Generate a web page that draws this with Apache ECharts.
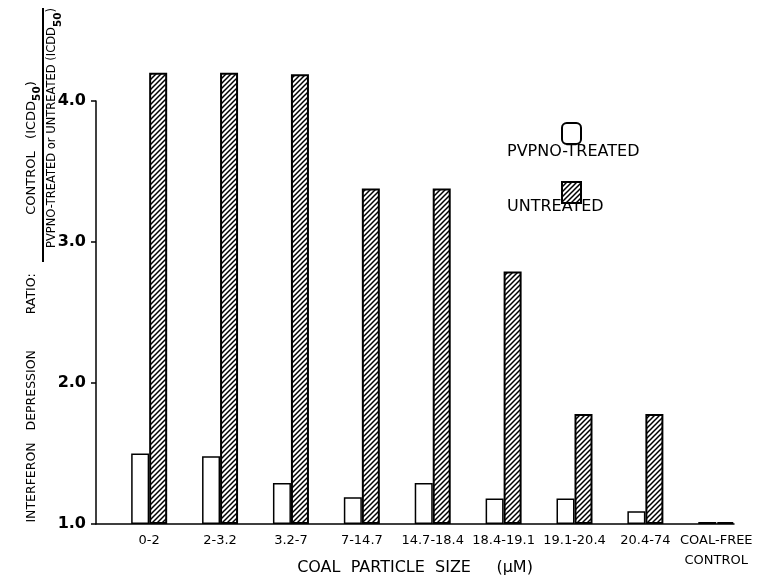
<!DOCTYPE html>
<html><head><meta charset="utf-8">
<script src="https://cdn.jsdelivr.net/npm/echarts@6/dist/echarts.min.js"></script>
<style>html,body{margin:0;padding:0;background:#fff}#c{width:766px;height:582px}</style>
</head><body><div id="c"></div>
<script>
const categories = ['0-2','2-3.2','3.2-7','7-14.7','14.7-18.4','18.4-19.1','19.1-20.4','20.4-74','COAL-FREE\nCONTROL'];
const pvpnoTreated = [1.50,1.48,1.29,1.19,1.29,1.18,1.18,1.09,1.0];
const untreated = [4.20,4.20,4.19,3.38,3.38,2.79,1.78,1.78,1.0];
const yTicks = [1,2,3,4];
const seriesNames = ['PVPNO-TREATED','UNTREATED'];
const xTitle = 'COAL  PARTICLE  SIZE     (\u03bcM)';
const yTitleMain = 'INTERFERON   DEPRESSION         RATIO:';
const yTitleNum = 'CONTROL   (ICDD';
const yTitleDen = 'PVPNO-TREATED or UNTREATED (ICDD';
const yTitleSub = '50';

const FONT = 'DejaVu Sans';

function hatchCanvas(){
  const s = 5;
  const c = document.createElement('canvas');
  c.width = s; c.height = s;
  const g = c.getContext('2d');
  g.fillStyle = '#fff'; g.fillRect(0,0,s,s);
  g.strokeStyle = '#000'; g.lineWidth = 1.5;
  g.beginPath();
  g.moveTo(-1, s+1); g.lineTo(s+1, -1);
  g.moveTo(-1, 1); g.lineTo(1, -1);
  g.moveTo(s-1, s+1); g.lineTo(s+1, s-1);
  g.stroke();
  return c;
}
const hatch = {image: hatchCanvas(), repeat: 'repeat'};

const chart = echarts.init(document.getElementById('c'), null, {renderer:'canvas'});
const idx = categories.map((c,i)=>i);

chart.setOption({
  animation: false,
  backgroundColor: '#fff',
  grid: {left: 96, right: 32, top: 101, bottom: 58, outerBoundsMode: 'none', containLabel: false},
  xAxis: {
    type: 'value', min: -0.75, max: 8.25,
    axisLine: {show: true, onZero: false, lineStyle: {color: '#000', width: 1.5}},
    axisTick: {show: false},
    splitLine: {show: false},
    axisLabel: {
      customValues: idx,
      formatter: v => categories[Math.round(v)] || '',
      color: '#000', fontFamily: FONT, fontSize: 13, margin: 7, lineHeight: 20,
      hideOverlap: false
    },
    name: xTitle, nameLocation: 'middle', nameGap: 36, nameMoveOverlap: false,
    nameTextStyle: {color: '#000', fontFamily: FONT, fontSize: 16}
  },
  yAxis: {
    type: 'value', min: yTicks[0], max: yTicks[yTicks.length-1], interval: 1, startValue: yTicks[0],
    axisLine: {show: true, onZero: false, lineStyle: {color: '#000', width: 1.5}},
    axisTick: {show: true, inside: false, length: 5, lineStyle: {color: '#000', width: 1.5}},
    splitLine: {show: false},
    axisLabel: {formatter: v => v.toFixed(1), color: '#000', fontFamily: FONT, fontSize: 16, fontWeight: 'bold', margin: 10}
  },
  legend: {
    orient: 'vertical', left: 556, top: 117, itemWidth: 19, itemHeight: 21, itemGap: 36,
    selectedMode: false, formatter: () => '',
    data: [{name: seriesNames[0], icon: 'roundRect'}, {name: seriesNames[1], icon: 'rect'}]
  },
  series: [
    {
      name: seriesNames[0], type: 'bar', barWidth: 18, barGap: '0%', clip: false, barMinHeight: 2,
      data: pvpnoTreated.map((v,i)=>[i, v]),
      itemStyle: {color: '#fff', borderColor: '#000', borderWidth: 1.5}
    },
    {
      name: seriesNames[1], type: 'bar', barWidth: 18, barGap: '0%', clip: false, barMinHeight: 2,
      data: untreated.map((v,i)=>[i, v]),
      itemStyle: {color: hatch, borderColor: '#000', borderWidth: 2}
    }
  ],
  graphic: [
    {type: 'text', x: 32, y: 398, rotation: Math.PI/2,
     style: {text: yTitleMain, fontFamily: FONT, fontSize: 12.5, fill: '#000', align: 'center', verticalAlign: 'middle'}},
    {type: 'text', x: 34, y: 148, rotation: Math.PI/2,
     style: {text: '{n|' + yTitleNum + '}{s|' + yTitleSub + '}{n|)}', fill: '#000', align: 'center', verticalAlign: 'middle',
       rich: {n: {fontFamily: FONT, fontSize: 13, fill: '#000', lineHeight: 14, verticalAlign: 'top'}, s: {fontFamily: FONT, fontSize: 10.5, fontWeight: 'bold', fill: '#000', lineHeight: 18, verticalAlign: 'bottom'}}}},
    {type: 'line', shape: {x1: 43, y1: 8, x2: 43, y2: 262}, style: {stroke: '#000', lineWidth: 2}},
    {type: 'text', x: 55, y: 128, rotation: Math.PI/2,
     style: {text: '{n|' + yTitleDen + '}{s|' + yTitleSub + '}{n|)}', fill: '#000', align: 'center', verticalAlign: 'middle',
       rich: {n: {fontFamily: FONT, fontSize: 11.5, fill: '#000', lineHeight: 14, verticalAlign: 'top'}, s: {fontFamily: FONT, fontSize: 10.5, fontWeight: 'bold', fill: '#000', lineHeight: 18, verticalAlign: 'bottom'}}}},
    {type: 'text', x: 507, y: 152,
     style: {text: seriesNames[0], fontFamily: FONT, fontSize: 16, fill: '#000', align: 'left', verticalAlign: 'middle'}},
    {type: 'text', x: 507, y: 207,
     style: {text: seriesNames[1], fontFamily: FONT, fontSize: 16, fill: '#000', align: 'left', verticalAlign: 'middle'}}
  ]
});
</script>
</body></html>
